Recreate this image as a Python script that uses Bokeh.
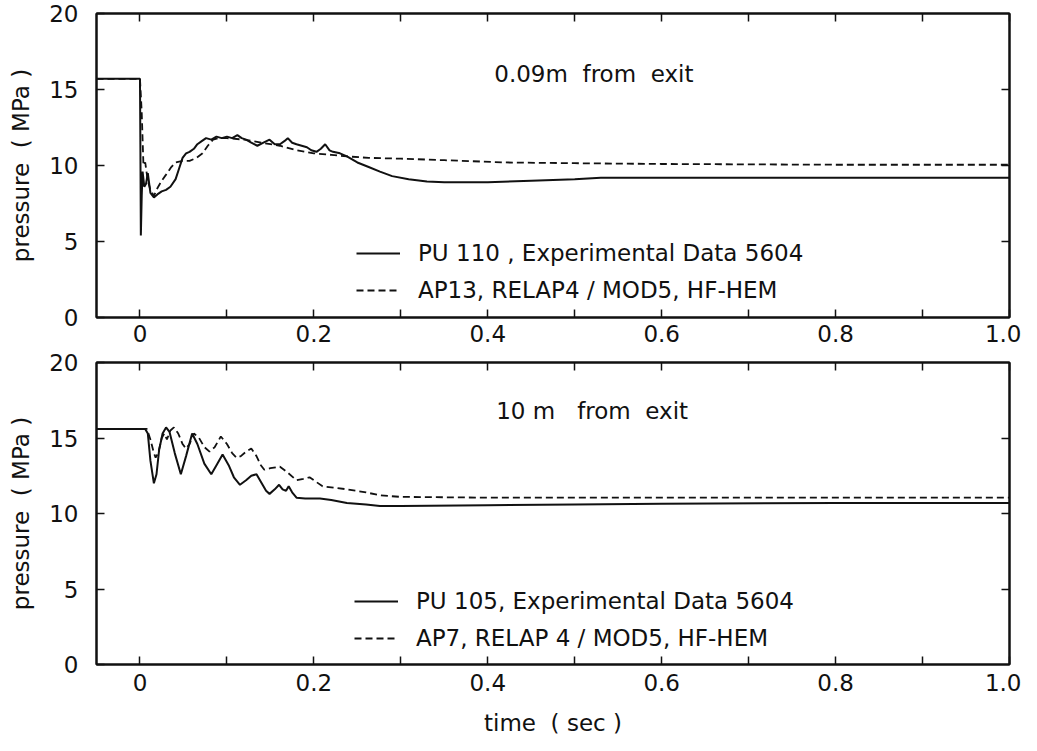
from bokeh.plotting import figure
from bokeh.layouts import column
from bokeh.models import (FixedTicker, LinearAxis, Range1d, Label, Legend, LegendItem,
                          CustomLabelingPolicy)
from bokeh.embed import file_html
from bokeh.resources import INLINE

# ---------------- data ----------------
x_major = [0.0, 0.2, 0.4, 0.6, 0.8, 1.0]
x_minor = [0.1, 0.3, 0.5, 0.7, 0.9]
x_all = [0.0, 0.1, 0.2, 0.3, 0.4, 0.5, 0.6, 0.7, 0.8, 0.9, 1.0]
x_tick_text = {1.0: "1.0"}
y_ticks = [0, 5, 10, 15, 20]
y_inner = [5, 10, 15]

# top panel: 0.09 m from exit
t_top_exp = [-0.05, 0.0, 0.0005, 0.001, 0.002, 0.003, 0.005, 0.007, 0.009, 0.012,
             0.016, 0.02, 0.025, 0.03, 0.035, 0.041, 0.045, 0.049, 0.053, 0.057,
             0.062, 0.066, 0.071, 0.076, 0.082, 0.088, 0.094, 0.1, 0.106, 0.112,
             0.117, 0.122, 0.128, 0.135, 0.142, 0.149, 0.155, 0.161, 0.166, 0.17,
             0.175, 0.18, 0.186, 0.192, 0.197, 0.203, 0.208, 0.213, 0.218, 0.222,
             0.23, 0.238, 0.25, 0.263, 0.276, 0.29, 0.309, 0.33, 0.35, 0.4,
             0.45, 0.5, 0.53, 0.6, 0.7, 0.8, 0.9, 1.0]
p_top_exp = [15.7, 15.7, 11.0, 5.4, 8.0, 9.6, 8.6, 8.8, 9.5, 8.2,
             7.9, 8.1, 8.3, 8.4, 8.6, 9.1, 9.8, 10.5, 10.8, 10.9,
             11.1, 11.4, 11.6, 11.8, 11.7, 11.9, 11.8, 11.9, 11.8, 12.0,
             11.8, 11.7, 11.5, 11.3, 11.5, 11.7, 11.4, 11.4, 11.6, 11.8,
             11.5, 11.4, 11.3, 11.2, 11.0, 10.9, 11.1, 11.4, 11.0, 10.9,
             10.8, 10.6, 10.2, 9.9, 9.6, 9.3, 9.1, 8.95, 8.9, 8.9,
             9.0, 9.1, 9.2, 9.2, 9.2, 9.2, 9.2, 9.2]

t_top_calc = [-0.05, 0.0, 0.002, 0.004, 0.006, 0.009, 0.012, 0.016, 0.02, 0.025,
              0.03, 0.036, 0.041, 0.049, 0.057, 0.065, 0.072, 0.078, 0.084, 0.09,
              0.1, 0.12, 0.14, 0.161, 0.18, 0.2, 0.22, 0.238, 0.263, 0.3,
              0.35, 0.42, 0.5, 0.6, 0.8, 1.0]
p_top_calc = [15.7, 15.7, 13.5, 10.0, 10.2, 9.0, 8.4, 8.0, 8.5, 9.0,
              9.4, 9.9, 10.2, 10.3, 10.3, 10.5, 10.8, 11.3, 11.7, 11.8,
              11.8, 11.7, 11.5, 11.3, 11.0, 10.8, 10.7, 10.6, 10.5, 10.45,
              10.35, 10.2, 10.15, 10.1, 10.05, 10.05]

# bottom panel: 10 m from exit
t_bot_exp = [-0.05, 0.006, 0.009, 0.012, 0.016, 0.019, 0.022, 0.026, 0.03, 0.034,
             0.04, 0.047, 0.053, 0.06, 0.066, 0.074, 0.082, 0.088, 0.095, 0.102,
             0.108, 0.115, 0.122, 0.128, 0.134, 0.14, 0.145, 0.149, 0.155, 0.16,
             0.164, 0.168, 0.171, 0.175, 0.18, 0.19, 0.207, 0.22, 0.238, 0.26,
             0.276, 0.3, 0.4, 0.5, 0.6, 0.8, 1.0]
p_bot_exp = [15.6, 15.6, 15.3, 13.5, 12.0, 12.6, 14.2, 15.3, 15.7, 15.4,
             14.0, 12.6, 13.8, 15.3, 14.6, 13.3, 12.6, 13.2, 13.9, 13.2,
             12.4, 11.9, 12.2, 12.5, 12.6, 12.0, 11.5, 11.3, 11.6, 11.9,
             11.6, 11.5, 11.8, 11.4, 11.05, 11.0, 11.0, 10.9, 10.7, 10.6,
             10.5, 10.5, 10.55, 10.6, 10.65, 10.7, 10.7]

t_bot_calc = [-0.05, 0.008, 0.012, 0.016, 0.018, 0.021, 0.025, 0.028, 0.031, 0.035,
              0.039, 0.044, 0.049, 0.053, 0.057, 0.062, 0.068, 0.074, 0.08, 0.086,
              0.093, 0.1, 0.106, 0.111, 0.116, 0.122, 0.128, 0.134, 0.139, 0.143,
              0.15, 0.161, 0.17, 0.18, 0.188, 0.195, 0.2, 0.21, 0.225, 0.238,
              0.26, 0.276, 0.3, 0.4, 0.6, 1.0]
p_bot_calc = [15.6, 15.6, 14.9, 14.0, 13.7, 14.0, 15.0, 15.3, 14.9, 15.5,
              15.7, 15.3, 14.6, 14.3, 14.6, 15.3, 15.0, 14.4, 14.1, 14.4,
              15.1, 14.6, 14.0, 13.7, 13.8, 14.1, 14.3, 13.8, 13.2, 12.9,
              13.0, 13.1, 12.7, 12.2, 12.3, 12.4, 12.2, 11.8, 11.7, 11.6,
              11.4, 11.2, 11.1, 11.05, 11.05, 11.05]

NB = "\u00a0"
top_title = "0.09m" + NB * 2 + "from" + NB * 2 + "exit"
bot_title = "10" + NB + "m" + NB * 3 + "from" + NB * 2 + "exit"
top_labels = ["PU 110 , Experimental Data 5604", "AP13, RELAP4 / MOD5, HF-HEM"]
bot_labels = ["PU 105, Experimental Data 5604", "AP7, RELAP 4 / MOD5, HF-HEM"]

FONT = "DejaVu Sans"
FS = "23px"
INK = "#111111"


def make_panel(tx, px, tc, pc, title, labels, title_xy, legend_xy,
               frame_h, border_top, border_bottom, tick_standoff, show_xlabel):
    p = figure(output_backend="svg", toolbar_location=None,
               frame_width=913, frame_height=frame_h,
               x_range=Range1d(-0.05, 1.0), y_range=Range1d(0, 20),
               x_axis_type=None, y_axis_type=None,
               min_border_left=96, min_border_right=12,
               min_border_top=border_top, min_border_bottom=border_bottom,
               background_fill_color="white", border_fill_color="white")
    p.grid.visible = False
    p.outline_line_color = INK
    p.outline_line_width = 2

    xb = LinearAxis(ticker=FixedTicker(ticks=x_major, minor_ticks=x_minor))
    xt = LinearAxis(ticker=FixedTicker(ticks=x_all))
    yl = LinearAxis(ticker=FixedTicker(ticks=y_ticks))
    yr = LinearAxis(ticker=FixedTicker(ticks=y_inner))
    for ax in (xb, xt, yl, yr):
        ax.axis_line_color = INK
        ax.axis_line_width = 2
        ax.major_tick_line_color = INK
        ax.minor_tick_line_color = INK
        ax.major_tick_line_width = 1.5
        ax.minor_tick_line_width = 1.5
        ax.major_tick_in = 8
        ax.major_tick_out = 0
        ax.minor_tick_in = 8
        ax.minor_tick_out = 0
        ax.major_label_text_font = FONT
        ax.major_label_text_font_size = FS
        ax.major_label_text_color = INK
        ax.axis_label_text_font = FONT
        ax.axis_label_text_font_size = FS
        ax.axis_label_text_font_style = "normal"
        ax.axis_label_text_color = INK
    for ax in (xt, yr):
        ax.major_label_policy = CustomLabelingPolicy(code="return []")
        ax.major_label_text_font_size = "1px"
        ax.major_label_standoff = 0
    xb.major_label_overrides = x_tick_text
    xb.major_label_standoff = tick_standoff
    yl.major_label_standoff = 18
    yl.axis_label = "pressure" + NB * 2 + "( MPa )"
    yl.axis_label_standoff = 12
    if show_xlabel:
        xb.axis_label = "time" + NB * 2 + "( sec )"
        xb.axis_label_standoff = 16
    p.add_layout(xb, "below")
    p.add_layout(xt, "above")
    p.add_layout(yl, "left")
    p.add_layout(yr, "right")

    r1 = p.line(tx, px, line_color=INK, line_width=2)
    r2 = p.line(tc, pc, line_color=INK, line_width=1.8, line_dash="7 4")

    p.add_layout(Label(x=title_xy[0], y=title_xy[1], text=title,
                       text_font=FONT, text_font_size=FS, text_color=INK,
                       text_align="center", text_baseline="middle"))

    leg = Legend(items=[LegendItem(label=labels[0], renderers=[r1]),
                        LegendItem(label=labels[1], renderers=[r2])],
                 location=legend_xy, orientation="vertical",
                 glyph_width=44, glyph_height=22, label_height=22,
                 label_standoff=18, spacing=11, padding=0, margin=0,
                 border_line_color=None, background_fill_alpha=0,
                 label_text_font=FONT, label_text_font_size=FS,
                 label_text_color=INK)
    p.add_layout(leg, "center")
    return p


top = make_panel(t_top_exp, p_top_exp, t_top_calc, p_top_calc, top_title,
                 top_labels, (0.522, 16.0), (260, 14), 304, 13, 32, 7, False)
bot = make_panel(t_bot_exp, p_bot_exp, t_bot_calc, p_bot_calc, bot_title,
                 bot_labels, (0.52, 16.8), (258, 13), 302, 13, 80, 9, True)

layout = column(top, bot, spacing=0)
open("out.html", "w").write(file_html(layout, INLINE))
